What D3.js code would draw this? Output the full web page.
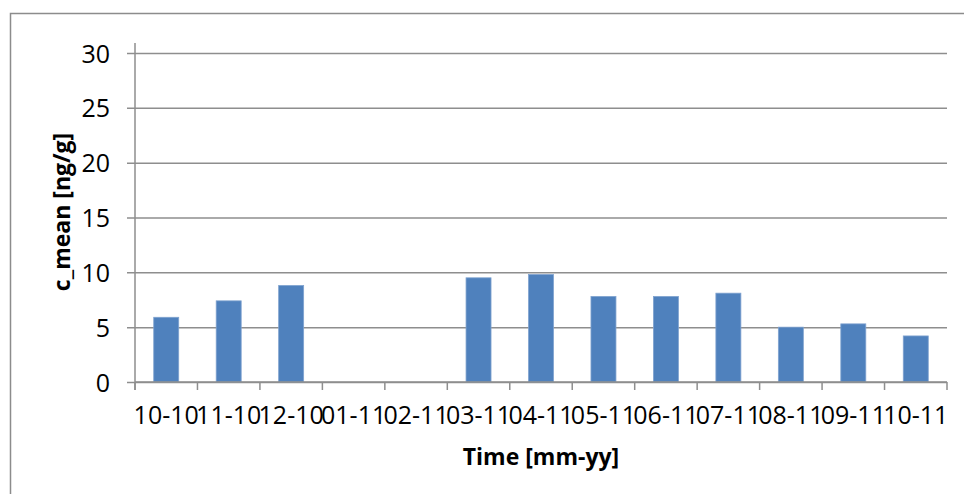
<!DOCTYPE html>
<html>
<head>
<meta charset="utf-8">
<script src="https://cdn.jsdelivr.net/npm/d3@7"></script>
<style>
  html, body { margin: 0; padding: 0; background: #ffffff; }
  svg { display: block; }
</style>
</head>
<body>
<svg id="chart" width="964" height="494"></svg>
<script>
const categories = ["10-10","11-10","12-10","01-11","02-11","03-11","04-11","05-11","06-11","07-11","08-11","09-11","10-11"];
const cMean = [5.9, 7.4, 8.8, null, null, 9.5, 9.8, 7.8, 7.8, 8.1, 5.0, 5.3, 4.2];
const yTicks = [0, 5, 10, 15, 20, 25, 30];
const xTitle = "Time [mm-yy]";
const yTitle = "c_mean [ng/g]";

const svg = d3.select("#chart");
const font = "'Open Sans', 'Noto Sans', sans-serif";
const gridColor = "#8e8e8e";

const plotL = 135, plotR = 947, plotT = 53, plotB = 382;

// outer chart border
svg.append("rect")
  .attr("x", 10.5).attr("y", 13.5)
  .attr("width", 1000).attr("height", 1000)
  .attr("fill", "none").attr("stroke", "#8c8c8c").attr("stroke-width", 1.5);

const x = d3.scaleBand().domain(categories).range([plotL, plotR]).padding(0);
const y = d3.scaleLinear().domain([0, 30]).range([plotB, plotT]);

// gridlines + y ticks
const yAxis = d3.axisLeft(y).tickValues(yTicks).tickSize(-(plotR - plotL)).tickPadding(0).tickFormat(d3.format("d"));
const gy = svg.append("g").attr("transform", `translate(${plotL},0)`).call(yAxis);
gy.select(".domain").remove();
gy.selectAll(".tick line")
  .attr("x1", -8)
  .attr("stroke", gridColor).attr("stroke-width", 1.5);
gy.selectAll(".tick text")
  .attr("x", -25)
  .attr("dy", "0.36em")
  .attr("fill", "#000")
  .style("font-family", font).style("font-size", "25px");

// y axis line
svg.append("line")
  .attr("x1", plotL).attr("x2", plotL)
  .attr("y1", plotT - 10).attr("y2", plotB + 8)
  .attr("stroke", gridColor).attr("stroke-width", 1.5);

// bars
svg.append("g").selectAll("rect")
  .data(categories.map((c, i) => ({c, v: cMean[i]})).filter(d => d.v != null))
  .join("rect")
  .attr("x", d => x(d.c) + x.bandwidth() * 0.3)
  .attr("width", x.bandwidth() * 0.4)
  .attr("y", d => y(d.v))
  .attr("height", d => y(0) - y(d.v))
  .attr("fill", "#4f81bd")
  .attr("stroke", "#7fa2cf").attr("stroke-width", 0.8);

// x axis
const xAxis = d3.axisBottom(x).tickSize(0).tickPadding(0);
const gx = svg.append("g").attr("transform", `translate(0,${plotB})`).call(xAxis);
gx.select(".domain").remove();
gx.selectAll(".tick text")
  .attr("y", 42)
  .attr("dy", 0)
  .attr("fill", "#000")
  .style("font-family", font).style("font-size", "25px");

svg.append("line")
  .attr("x1", plotL).attr("x2", plotR)
  .attr("y1", plotB).attr("y2", plotB)
  .attr("stroke", gridColor).attr("stroke-width", 1.5);

// boundary tick marks
const bounds = categories.map(c => x(c)).concat([x(categories[categories.length - 1]) + x.bandwidth()]);
svg.append("g").selectAll("line")
  .data(bounds)
  .join("line")
  .attr("x1", d => d).attr("x2", d => d)
  .attr("y1", plotB).attr("y2", plotB + 8)
  .attr("stroke", gridColor).attr("stroke-width", 1.5);

// axis titles
svg.append("text")
  .attr("x", (plotL + plotR) / 2).attr("y", 465)
  .attr("text-anchor", "middle")
  .style("font-family", font).style("font-size", "23px").style("font-weight", "bold")
  .text(xTitle);

svg.append("text")
  .attr("transform", "translate(70,212) rotate(-90)")
  .attr("text-anchor", "middle")
  .style("font-family", font).style("font-size", "23px").style("font-weight", "bold")
  .text(yTitle);
</script>
</body>
</html>
